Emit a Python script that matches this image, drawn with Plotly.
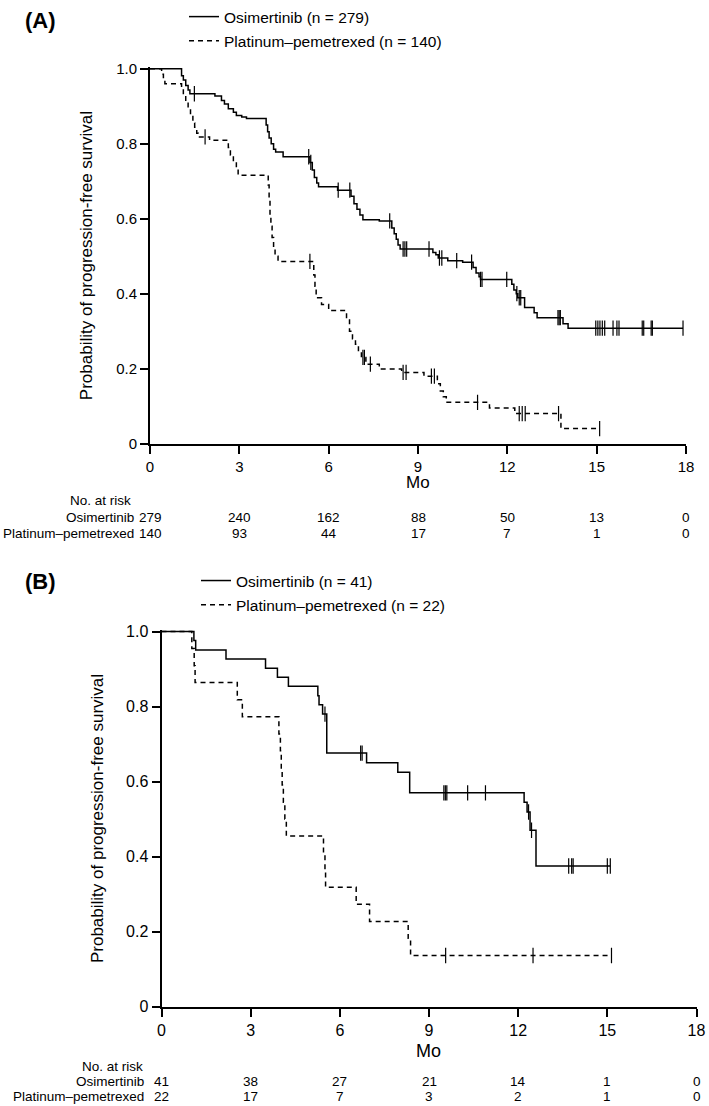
import plotly.graph_objects as go

W, H = 709, 1106
FONT = "Liberation Sans, Arial, Helvetica, sans-serif"

# ---------------- data ----------------
x_ticks = [0, 3, 6, 9, 12, 15, 18]
y_ticks = [0, 0.2, 0.4, 0.6, 0.8, 1.0]
y_ticktext = ["0", "0.2", "0.4", "0.6", "0.8", "1.0"]

# Panel A - Osimertinib (time in months, survival probability)
a_osi_steps = [
    [0, 1.0], [1.06, 0.981], [1.12, 0.97], [1.2, 0.955], [1.28, 0.943], [1.34, 0.933],
    [2.18, 0.927], [2.4, 0.915], [2.5, 0.906], [2.63, 0.893], [2.8, 0.884], [2.9, 0.875],
    [3.08, 0.871], [3.24, 0.867], [3.9, 0.85], [3.95, 0.832], [4.0, 0.815], [4.07, 0.8],
    [4.15, 0.785], [4.22, 0.778], [4.47, 0.765], [5.37, 0.75], [5.45, 0.73], [5.52, 0.71],
    [5.6, 0.695], [5.66, 0.685], [6.3, 0.676], [6.75, 0.66], [6.85, 0.64], [6.95, 0.625],
    [7.05, 0.61], [7.15, 0.597], [7.7, 0.594], [8.12, 0.575], [8.2, 0.56], [8.27, 0.545],
    [8.33, 0.53], [8.4, 0.519], [9.5, 0.51], [9.6, 0.504], [9.68, 0.495], [10.0, 0.488],
    [10.5, 0.484], [10.85, 0.47], [10.95, 0.455], [11.05, 0.445], [11.1, 0.438],
    [12.15, 0.425], [12.22, 0.41], [12.3, 0.4], [12.35, 0.389], [12.58, 0.363],
    [12.9, 0.349], [13.0, 0.336], [13.87, 0.32], [14.04, 0.308], [17.9, 0.308],
]
a_osi_censor = [1.49, 5.33, 5.4, 6.32, 6.71, 8.05, 8.5, 8.56, 8.62, 9.37, 9.72, 9.8, 10.3,
                10.8, 11.1, 11.15, 11.98, 12.32, 12.4, 12.45, 13.7, 13.74, 13.78,
                14.97, 15.04, 15.11, 15.19, 15.27, 15.55, 15.68, 15.75, 16.53, 16.58,
                16.83, 16.87, 17.9]

# Panel A - Platinum-pemetrexed
a_plt_steps = [
    [0, 1.0], [0.39, 0.985], [0.45, 0.97], [0.5, 0.96], [1.06, 0.95], [1.12, 0.93],
    [1.2, 0.91], [1.28, 0.893], [1.36, 0.875], [1.44, 0.855], [1.5, 0.844], [1.57, 0.828],
    [1.62, 0.818], [2.0, 0.809], [2.63, 0.79], [2.7, 0.77], [2.8, 0.751], [2.9, 0.735],
    [2.96, 0.716], [3.97, 0.69], [4.0, 0.65], [4.03, 0.61], [4.06, 0.58], [4.1, 0.55],
    [4.15, 0.52], [4.2, 0.5], [4.3, 0.486], [5.5, 0.45], [5.54, 0.42], [5.58, 0.389],
    [5.76, 0.371], [6.0, 0.355], [6.6, 0.33], [6.7, 0.3], [6.8, 0.28], [6.9, 0.265],
    [7.0, 0.245], [7.1, 0.23], [7.25, 0.212], [7.7, 0.199], [8.45, 0.19], [9.2, 0.18],
    [9.65, 0.16], [9.75, 0.14], [9.85, 0.125], [9.95, 0.11], [11.4, 0.095], [12.25, 0.08],
    [13.8, 0.04], [15.1, 0.04],
]
a_plt_censor = [1.85, 5.37, 7.15, 7.2, 7.4, 8.5, 8.6, 9.45, 9.55, 11.0, 12.4, 12.5, 12.6,
                13.72, 15.1]

# Panel B - Osimertinib
b_osi_steps = [
    [0, 1.0], [1.09, 0.976], [1.15, 0.951], [2.17, 0.927], [3.5, 0.902], [3.9, 0.878],
    [4.27, 0.854], [5.26, 0.829], [5.3, 0.805], [5.42, 0.78], [5.56, 0.676], [6.9, 0.65],
    [7.95, 0.625], [8.35, 0.57], [12.2, 0.545], [12.3, 0.519], [12.4, 0.47], [12.6, 0.375],
    [15.1, 0.375],
]
b_osi_censor = [5.5, 6.7, 6.75, 9.5, 9.55, 9.6, 10.3, 10.9, 12.35, 12.45, 13.7, 13.8,
                13.85, 15.0, 15.1]

# Panel B - Platinum-pemetrexed
b_plt_steps = [
    [0, 1.0], [1.02, 0.955], [1.1, 0.909], [1.13, 0.864], [2.55, 0.818], [2.72, 0.773],
    [3.95, 0.727], [4.0, 0.682], [4.03, 0.636], [4.06, 0.591], [4.1, 0.545], [4.15, 0.5],
    [4.2, 0.455], [5.45, 0.409], [5.5, 0.364], [5.52, 0.318], [6.55, 0.273], [7.0, 0.227],
    [8.3, 0.182], [8.38, 0.136], [15.14, 0.136],
]
b_plt_censor = [9.56, 12.5, 15.14]

# Numbers at risk
risk_times = [0, 3, 6, 9, 12, 15, 18]
a_osi_risk = [279, 240, 162, 88, 50, 13, 0]
a_plt_risk = [140, 93, 44, 17, 7, 1, 0]
b_osi_risk = [41, 38, 27, 21, 14, 1, 0]
b_plt_risk = [22, 17, 7, 3, 2, 1, 0]

# ---------------- helpers ----------------
def px_x(p):
    return p / W


def px_y(p):
    return 1 - p / H


def step_at(steps, t):
    v = steps[0][1]
    for ti, si in steps:
        if ti <= t:
            v = si
        else:
            break
    return v


fig = go.Figure()


def add_curve(steps, censor, name, dash, xa, ya, legend, group):
    fig.add_trace(go.Scatter(
        x=[p[0] for p in steps], y=[p[1] for p in steps], mode="lines",
        line=dict(color="black", width=1.5, shape="hv", dash=dash),
        name=name, legend=legend, legendgroup=group,
        xaxis=xa, yaxis=ya, hoverinfo="skip"))
    fig.add_trace(go.Scatter(
        x=censor, y=[step_at(steps, t) for t in censor], mode="markers",
        marker=dict(symbol="line-ns", size=11, color="black",
                    line=dict(width=1.2, color="black")),
        showlegend=False, xaxis=xa, yaxis=ya, hoverinfo="skip"))


DASH = "5px,4px"
add_curve(a_osi_steps, a_osi_censor, "Osimertinib (n = 279)", "solid", "x", "y", "legend", "a1")
add_curve(a_plt_steps, a_plt_censor, "Platinum\u2013pemetrexed (n = 140)", DASH, "x", "y", "legend", "a2")
add_curve(b_osi_steps, b_osi_censor, "Osimertinib (n = 41)", "solid", "x2", "y2", "legend2", "b1")
add_curve(b_plt_steps, b_plt_censor, "Platinum\u2013pemetrexed (n = 22)", DASH, "x2", "y2", "legend2", "b2")


def axis_common(size):
    return dict(showline=True, linecolor="black", linewidth=2, ticks="outside",
                ticklen=8, tickwidth=2, tickcolor="black", showgrid=False,
                zeroline=False, automargin=False, mirror=False,
                tickfont=dict(family=FONT, size=size, color="black"))


# Panel geometry (pixels)
A_L, A_R, A_T, A_B = 150, 686, 63, 440
B_L, B_R, B_T, B_B = 161.5, 696.5, 629, 1006

legend_style = dict(xanchor="left", yanchor="top", bgcolor="rgba(0,0,0,0)",
                    font=dict(family=FONT, size=15.5, color="black"),
                    traceorder="grouped", tracegroupgap=1, itemwidth=30)

fig.update_layout(
    width=W, height=H, margin=dict(l=0, r=0, t=0, b=0),
    paper_bgcolor="white", plot_bgcolor="white",
    font=dict(family=FONT, color="black"),
    xaxis=dict(domain=[px_x(A_L), px_x(A_R)], anchor="y", range=[0, 18],
               tickvals=x_ticks, **axis_common(15)),
    yaxis=dict(domain=[px_y(A_B), px_y(A_T - 1.5)], anchor="x", range=[0, 1.004],
               tickvals=y_ticks, ticktext=y_ticktext, **axis_common(15)),
    xaxis2=dict(domain=[px_x(B_L), px_x(B_R)], anchor="y2", range=[0, 18],
                tickvals=x_ticks, **axis_common(16)),
    yaxis2=dict(domain=[px_y(B_B), px_y(B_T - 1.5)], anchor="x2", range=[0, 1.004],
                tickvals=y_ticks, ticktext=y_ticktext, **axis_common(16)),
    legend=dict(x=px_x(184), y=px_y(-6), **legend_style),
    legend2=dict(x=px_x(196), y=px_y(561), **legend_style),
    showlegend=True,
)

ann = []


def text(s, x, y, size, xanchor="center", angle=0, bold=False, xref="paper"):
    ann.append(dict(text=("<b>%s</b>" % s) if bold else s, x=x, y=y, xref=xref, yref="paper",
                    xanchor=xanchor, yanchor="middle", showarrow=False, textangle=angle,
                    font=dict(family=FONT, size=size, color="black")))


# Panel labels
text("(A)", px_x(23), px_y(15), 22, xanchor="left", bold=True)
text("(B)", px_x(23), px_y(579), 22, xanchor="left", bold=True)

# Axis titles
text("Probability of progression-free survival", px_x(86), px_y((A_T + A_B) / 2), 17, angle=-90)
text("Mo", px_x((A_L + A_R) / 2), px_y(479), 17)
text("Probability of progression-free survival", px_x(97), px_y((B_T + B_B) / 2), 17, angle=-90)
text("Mo", px_x((B_L + B_R) / 2), px_y(1051), 18)

# Risk tables
RISK = 13.5
text("No. at risk", px_x(133), px_y(497), RISK, xanchor="right")
text("Osimertinib", px_x(136), px_y(514), RISK, xanchor="right")
text("Platinum\u2013pemetrexed", px_x(136), px_y(530), RISK, xanchor="right")
for t, n1, n2 in zip(risk_times, a_osi_risk, a_plt_risk):
    text(str(n1), t, px_y(514), RISK, xref="x")
    text(str(n2), t, px_y(530), RISK, xref="x")

text("No. at risk", px_x(145), px_y(1066), RISK, xanchor="right")
text("Osimertinib", px_x(146), px_y(1081), RISK, xanchor="right")
text("Platinum\u2013pemetrexed", px_x(146), px_y(1096), RISK, xanchor="right")
for t, n1, n2 in zip(risk_times, b_osi_risk, b_plt_risk):
    text(str(n1), t, px_y(1081), RISK, xref="x2")
    text(str(n2), t, px_y(1096), RISK, xref="x2")

fig.update_layout(annotations=ann)

# remove the browser's default body margin so the figure sits at the page origin
fig.write_html("out.html", config={"displayModeBar": False},
               post_script="document.body.style.margin='0px';")
